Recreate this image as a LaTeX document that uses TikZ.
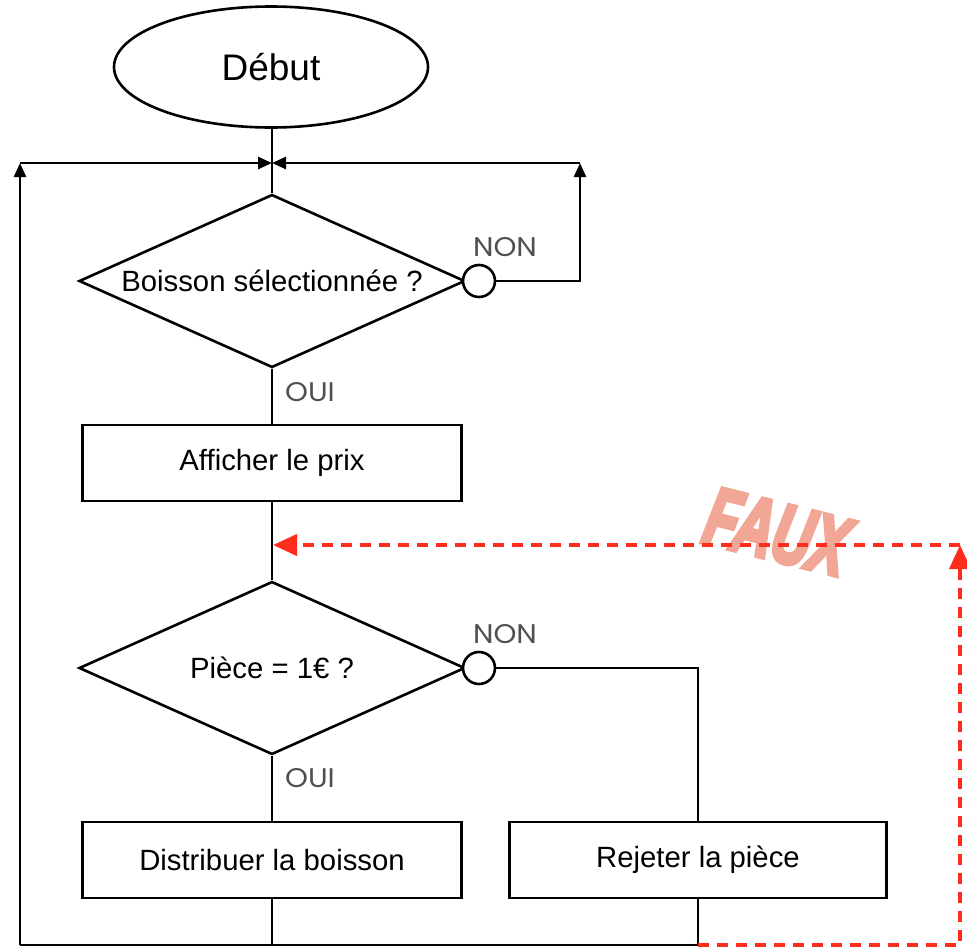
\documentclass[tikz,border=0pt]{standalone}
\usepackage{fontspec}
\setmainfont{Liberation Sans}
\newfontfamily\labfont{Poppins}
\usetikzlibrary{shapes.geometric,arrows.meta}
\definecolor{labgray}{HTML}{505050}
\definecolor{dashred}{RGB}{255,45,30}
\definecolor{fauxcol}{RGB}{242,166,150}
\newcommand{\heavytext}[1]{\special{pdf:literal direct 2 Tr 5 w}#1\special{pdf:literal direct 0 Tr}}
\tikzset{
  line/.style={line width=2.6pt, black},
  arr/.style={-{Triangle[length=14pt,width=12pt]}},
  redline/.style={line width=4pt, dashred, dash pattern=on 11pt off 8pt},
  redarr/.style={-{Triangle[length=24pt,width=21pt]}},
  procbox/.style={draw, line width=2.6pt, rectangle, minimum height=76pt, inner sep=0pt, font=\fontsize{29.3}{33}\selectfont},
  decbox/.style={draw, line width=2.6pt, diamond, aspect=2.23, minimum width=386pt, minimum height=173pt, inner sep=0pt, font=\fontsize{29.3}{33}\selectfont},
  conn/.style={draw, line width=2.6pt, circle, minimum size=32pt, inner sep=0pt, fill=white},
  lab/.style={text=labgray, font=\labfont\fontsize{27}{30}\selectfont, inner sep=0pt, xscale=1.08}
}
\begin{document}
\begin{tikzpicture}[x=1pt,y=-1pt]
\useasboundingbox (0,0) rectangle (967,948);
% nodes
\node[draw, line width=2.6pt, ellipse, minimum width=314pt, minimum height=121pt, inner sep=0pt, font=\fontsize{37}{40}\selectfont] (start) at (271,67) {Début};
\node[decbox] (q1) at (272,281) {Boisson sélectionnée ?};
\node[conn] (c1) at (479,281) {};
\node[procbox, minimum width=379pt] (aff) at (272,463) {Afficher le prix};
\node[decbox] (q2) at (272,668) {Pièce = 1€ ?};
\node[conn] (c2) at (479,668) {};
\node[procbox, minimum width=379pt] (dist) at (272,860) {Distribuer la boisson};
\node[procbox, minimum width=377pt] (rej) at (698,860) {Rejeter la pièce};
% labels
\node[lab] (non1) at (505,247) {NON};
\node[lab] (oui1) at (310,392) {OUI};
\node[lab] (non2) at (505,634) {NON};
\node[lab] (oui2) at (310,778) {OUI};
\node[text=fauxcol, font=\bfseries\itshape\fontsize{82}{90}\selectfont, rotate=-14, xscale=0.66, inner sep=0pt] (faux) at (777,532) {\heavytext{FAUX}};
% coordinates
\coordinate (jt) at (272,163);
\coordinate (tl) at (20,163);
\coordinate (tr) at (580,163);
\coordinate (r1) at (580,281);
\coordinate (bl) at (20,945);
\coordinate (bm) at (272,945);
\coordinate (br) at (698,945);
\coordinate (rr) at (960,945);
\coordinate (rt) at (960,545);
\coordinate (jm) at (273,545);
% black connectors
\draw[line] (start.south -| jt) -- (q1.north);
\draw[line, arr] (bl) -- (tl);
\draw[line, arr] (tl) -- (jt);
\draw[line, arr] (c1.east) -- (r1) -- (tr);
\draw[line, arr] (tr) -- (jt);
\draw[line] (q1.south) -- (aff.north);
\draw[line] (aff.south) -- (q2.north);
\draw[line] (q2.south) -- (dist.north);
\draw[line] (c2.east) -- (c2.east -| rej.north) -- (rej.north);
\draw[line] (dist.south) -- (bm);
\draw[line] (rej.south) -- (br) -- (bl);
% red connectors
\draw[redline, redarr] (br) -- (rr) -- (rt);
\draw[redline, redarr] (rt) -- (jm);
\end{tikzpicture}
\end{document}
